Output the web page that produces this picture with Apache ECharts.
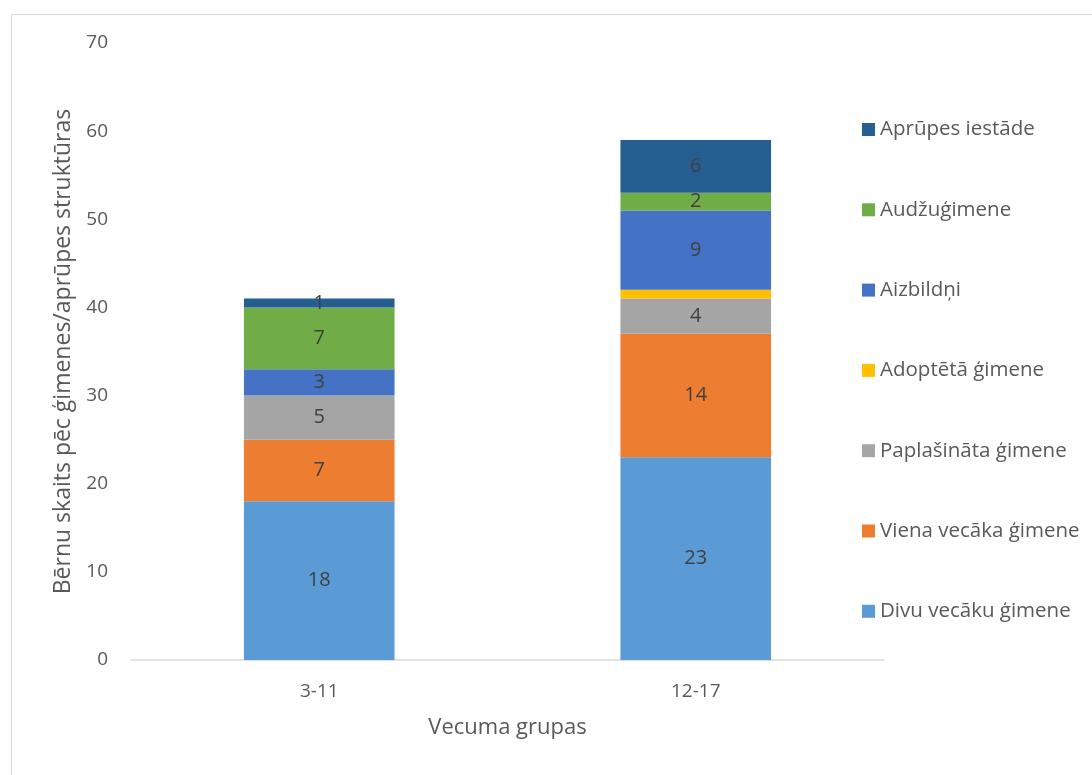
<!DOCTYPE html>
<html>
<head>
<meta charset="utf-8">
<script src="https://cdn.jsdelivr.net/npm/echarts@6/dist/echarts.min.js"></script>
<style>
html,body{margin:0;padding:0;background:#fff;}
#c{width:1092px;height:775px;}
</style>
</head>
<body>
<div id="c"></div>
<script>
const categories = ['3-11', '12-17'];
const divuVecaku = [18, 23];
const vienaVecaka = [7, 14];
const paplasinata = [5, 4];
const adopteta = [0, 1];
const aizbildni = [3, 9];
const audzugimene = [7, 2];
const aprupesIestade = [1, 6];
const yTicks = [0, 10, 20, 30, 40, 50, 60, 70];

const FONT = 'Open Sans';
const seriesDefs = [
  {name: 'Divu vecāku ģimene', data: divuVecaku, color: '#5B9BD5', label: true},
  {name: 'Viena vecāka ģimene', data: vienaVecaka, color: '#ED7D31', label: true},
  {name: 'Paplašināta ģimene', data: paplasinata, color: '#A5A5A5', label: true},
  {name: 'Adoptētā ģimene', data: adopteta, color: '#FFC000', label: false},
  {name: 'Aizbildņi', data: aizbildni, color: '#4472C4', label: true},
  {name: 'Audžuģimene', data: audzugimene, color: '#70AD47', label: true},
  {name: 'Aprūpes iestāde', data: aprupesIestade, color: '#255E91', label: true}
];

const chart = echarts.init(document.getElementById('c'), null, {renderer: 'canvas'});
chart.setOption({
  animation: false,
  backgroundColor: '#fff',
  textStyle: {fontFamily: FONT},
  graphic: [{
    type: 'rect', silent: true,
    shape: {x: 11.5, y: 14.5, width: 1200, height: 1000},
    style: {fill: 'none', stroke: '#d9d9d9', lineWidth: 1}
  }],
  grid: {left: 131, right: 208, top: 43, bottom: 115},
  legend: {
    orient: 'vertical',
    left: 857, top: 114,
    itemWidth: 13, itemHeight: 13,
    itemGap: 59.3,
    icon: 'rect',
    data: seriesDefs.map(s => s.name).reverse(),
    textStyle: {fontFamily: FONT, fontSize: 20.5, color: '#595959', lineHeight: 20}
  },
  xAxis: {
    type: 'category',
    data: categories,
    name: 'Vecuma grupas',
    nameLocation: 'middle',
    nameGap: 57,
    nameTextStyle: {fontFamily: FONT, fontSize: 22, color: '#595959'},
    axisLine: {lineStyle: {color: '#d9d9d9', width: 1.5}},
    axisTick: {show: false},
    axisLabel: {fontFamily: FONT, fontSize: 19, color: '#595959', margin: 22}
  },
  yAxis: {
    type: 'value',
    min: 0, max: 70, interval: 10,
    name: 'Bērnu skaits pēc ģimenes/aprūpes struktūras',
    nameLocation: 'middle',
    nameGap: 51,
    nameTextStyle: {fontFamily: FONT, fontSize: 23, color: '#595959'},
    axisLine: {show: false},
    axisTick: {show: false},
    splitLine: {show: false},
    axisLabel: {
      fontFamily: FONT, fontSize: 19, color: '#595959', margin: 23,
      formatter: v => yTicks.includes(v) ? String(v) : ''
    }
  },
  series: seriesDefs.map(s => ({
    name: s.name,
    type: 'bar',
    stack: 'total',
    barWidth: '40%',
    data: s.data,
    itemStyle: {color: s.color},
    label: {
      show: s.label,
      position: 'inside',
      fontFamily: FONT, fontSize: 20, color: '#404040',
      formatter: p => p.value ? String(p.value) : ''
    }
  }))
});
</script>
</body>
</html>
